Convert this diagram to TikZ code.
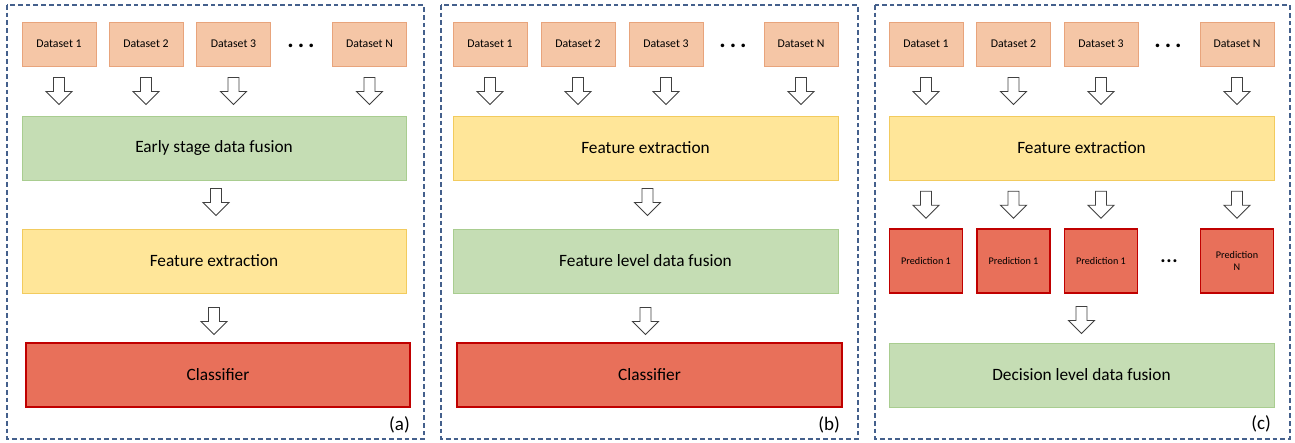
\documentclass[tikz,border=0pt]{standalone}
\usepackage{fontspec}
\setmainfont{Carlito}
\usetikzlibrary{calc}
\definecolor{peachfill}{HTML}{F5C6A6}
\definecolor{peachdraw}{HTML}{E8A47C}
\definecolor{greenfill}{HTML}{C5DDB4}
\definecolor{greendraw}{HTML}{A9CD90}
\definecolor{yellowfill}{HTML}{FFE699}
\definecolor{yellowdraw}{HTML}{F2CB5E}
\definecolor{redfill}{HTML}{E8705A}
\definecolor{reddraw}{HTML}{C00000}
\definecolor{panelline}{HTML}{44608C}
\definecolor{arrowline}{HTML}{404040}
\tikzset{
  panel/.style={draw=panelline, line width=1.3pt, dash pattern=on 4.7pt off 3pt},
  dsbox/.style={rectangle, draw=peachdraw, fill=peachfill, line width=1pt, inner sep=0pt,
    minimum width=74pt, minimum height=44pt, font=\fontsize{11.8}{13}\selectfont},
  bigbox/.style={rectangle, inner sep=0pt, minimum width=385pt, minimum height=64pt,
    font=\fontsize{17.3}{20}\selectfont},
  greenbox/.style={bigbox, draw=greendraw, fill=greenfill, line width=1pt},
  yellowbox/.style={bigbox, draw=yellowdraw, fill=yellowfill, line width=1pt},
  redbox/.style={bigbox, draw=reddraw, fill=redfill, line width=1.5pt},
  predbox/.style={rectangle, draw=reddraw, fill=redfill, line width=1.5pt, inner sep=0pt,
    minimum width=73pt, minimum height=64pt, align=center,
    font=\fontsize{10.2}{12.5}\selectfont},
  lbl/.style={anchor=east, inner sep=0pt, font=\fontsize{19}{22}\selectfont},
  dots/.style={inner sep=0pt, font=\bfseries\fontsize{24}{26}\selectfont},
  sdots/.style={inner sep=0pt, font=\bfseries\fontsize{20}{22}\selectfont},
  barrow/.pic={\draw[draw=arrowline, fill=white, line width=0.9pt, line join=miter]
    (-5.5,0) -- (5.5,0) -- (5.5,14) -- (13,14) -- (0,27) -- (-13,14) -- (-5.5,14) -- cycle;}
}
\begin{document}
\begin{tikzpicture}[x=1pt, y=-1pt]
\useasboundingbox (0,0) rectangle (1295,442);
% panels
\draw[panel] (7,5) rectangle (424,439);
\draw[panel] (441,5) rectangle (858,439);
\draw[panel] (875,5) rectangle (1290,439);

% ---------- panel (a)
\node[dsbox] (a1) at (59,44) {Dataset 1};
\node[dsbox] (a2) at (146,44) {Dataset 2};
\node[dsbox] (a3) at (233.5,44) {Dataset 3};
\node[dsbox] (aN) at (369.5,44) {Dataset N};
\node[dots] (adots) at (301,46) {.\hspace{4pt}.\hspace{4pt}.};
\node[greenbox, minimum width=384pt] (afus) at (214,148) {Early stage data fusion};
\node[yellowbox, minimum width=384pt] (afeat) at (214,261) {Feature extraction};
\node[redbox, minimum width=384pt] (acls) at (218,375) {Classifier};
\node[lbl] (alab) at (410,425) {(a)};
\foreach \n in {a1,a2,a3,aN} \pic at ($(\n.south)+(0,11)$) {barrow};
\pic at ($(afus.south)+(2,8)$) {barrow};
\pic at ($(afeat.south)+(0,14)$) {barrow};

% ---------- panel (b)
\node[dsbox] (b1) at (490,44) {Dataset 1};
\node[dsbox] (b2) at (578,44) {Dataset 2};
\node[dsbox] (b3) at (666,44) {Dataset 3};
\node[dsbox] (bN) at (801,44) {Dataset N};
\node[dots] (bdots) at (733,46) {.\hspace{4pt}.\hspace{4pt}.};
\node[yellowbox] (bfeat) at (645.5,148) {Feature extraction};
\node[greenbox] (bfus) at (645.5,261) {Feature level data fusion};
\node[redbox] (bcls) at (649.5,375) {Classifier};
\node[lbl] (blab) at (840,425) {(b)};
\foreach \n in {b1,b2,b3,bN} \pic at ($(\n.south)+(0,11)$) {barrow};
\pic at ($(bfeat.south)+(2,8)$) {barrow};
\pic at ($(bfus.south)+(0,14)$) {barrow};

% ---------- panel (c)
\node[dsbox] (c1) at (926,44) {Dataset 1};
\node[dsbox] (c2) at (1013.5,44) {Dataset 2};
\node[dsbox] (c3) at (1101,44) {Dataset 3};
\node[dsbox] (cN) at (1237,44) {Dataset N};
\node[dots] (cdots) at (1168,46) {.\hspace{4pt}.\hspace{4pt}.};
\node[yellowbox] (cfeat) at (1081.5,148) {Feature extraction};
\node[predbox] (p1) at (926,261) {Prediction 1};
\node[predbox] (p2) at (1013.5,261) {Prediction 1};
\node[predbox] (p3) at (1101,261) {Prediction 1};
\node[predbox] (pN) at (1237,261) {Prediction\\N};
\node[sdots] (pdots) at (1169,261) {.\hspace{0.6pt}.\hspace{0.6pt}.};
\node[greenbox] (cfus) at (1081.5,375) {Decision level data fusion};
\node[lbl] (clab) at (1271,424) {(c)};
\foreach \n in {c1,c2,c3,cN} \pic at ($(\n.south)+(0,11)$) {barrow};
\foreach \n in {p1,p2,p3,pN} \pic at ($(\n.north)+(0,-37)$) {barrow};
\pic at ($(cfus.north)+(0,-36)$) {barrow};
\end{tikzpicture}
\end{document}
